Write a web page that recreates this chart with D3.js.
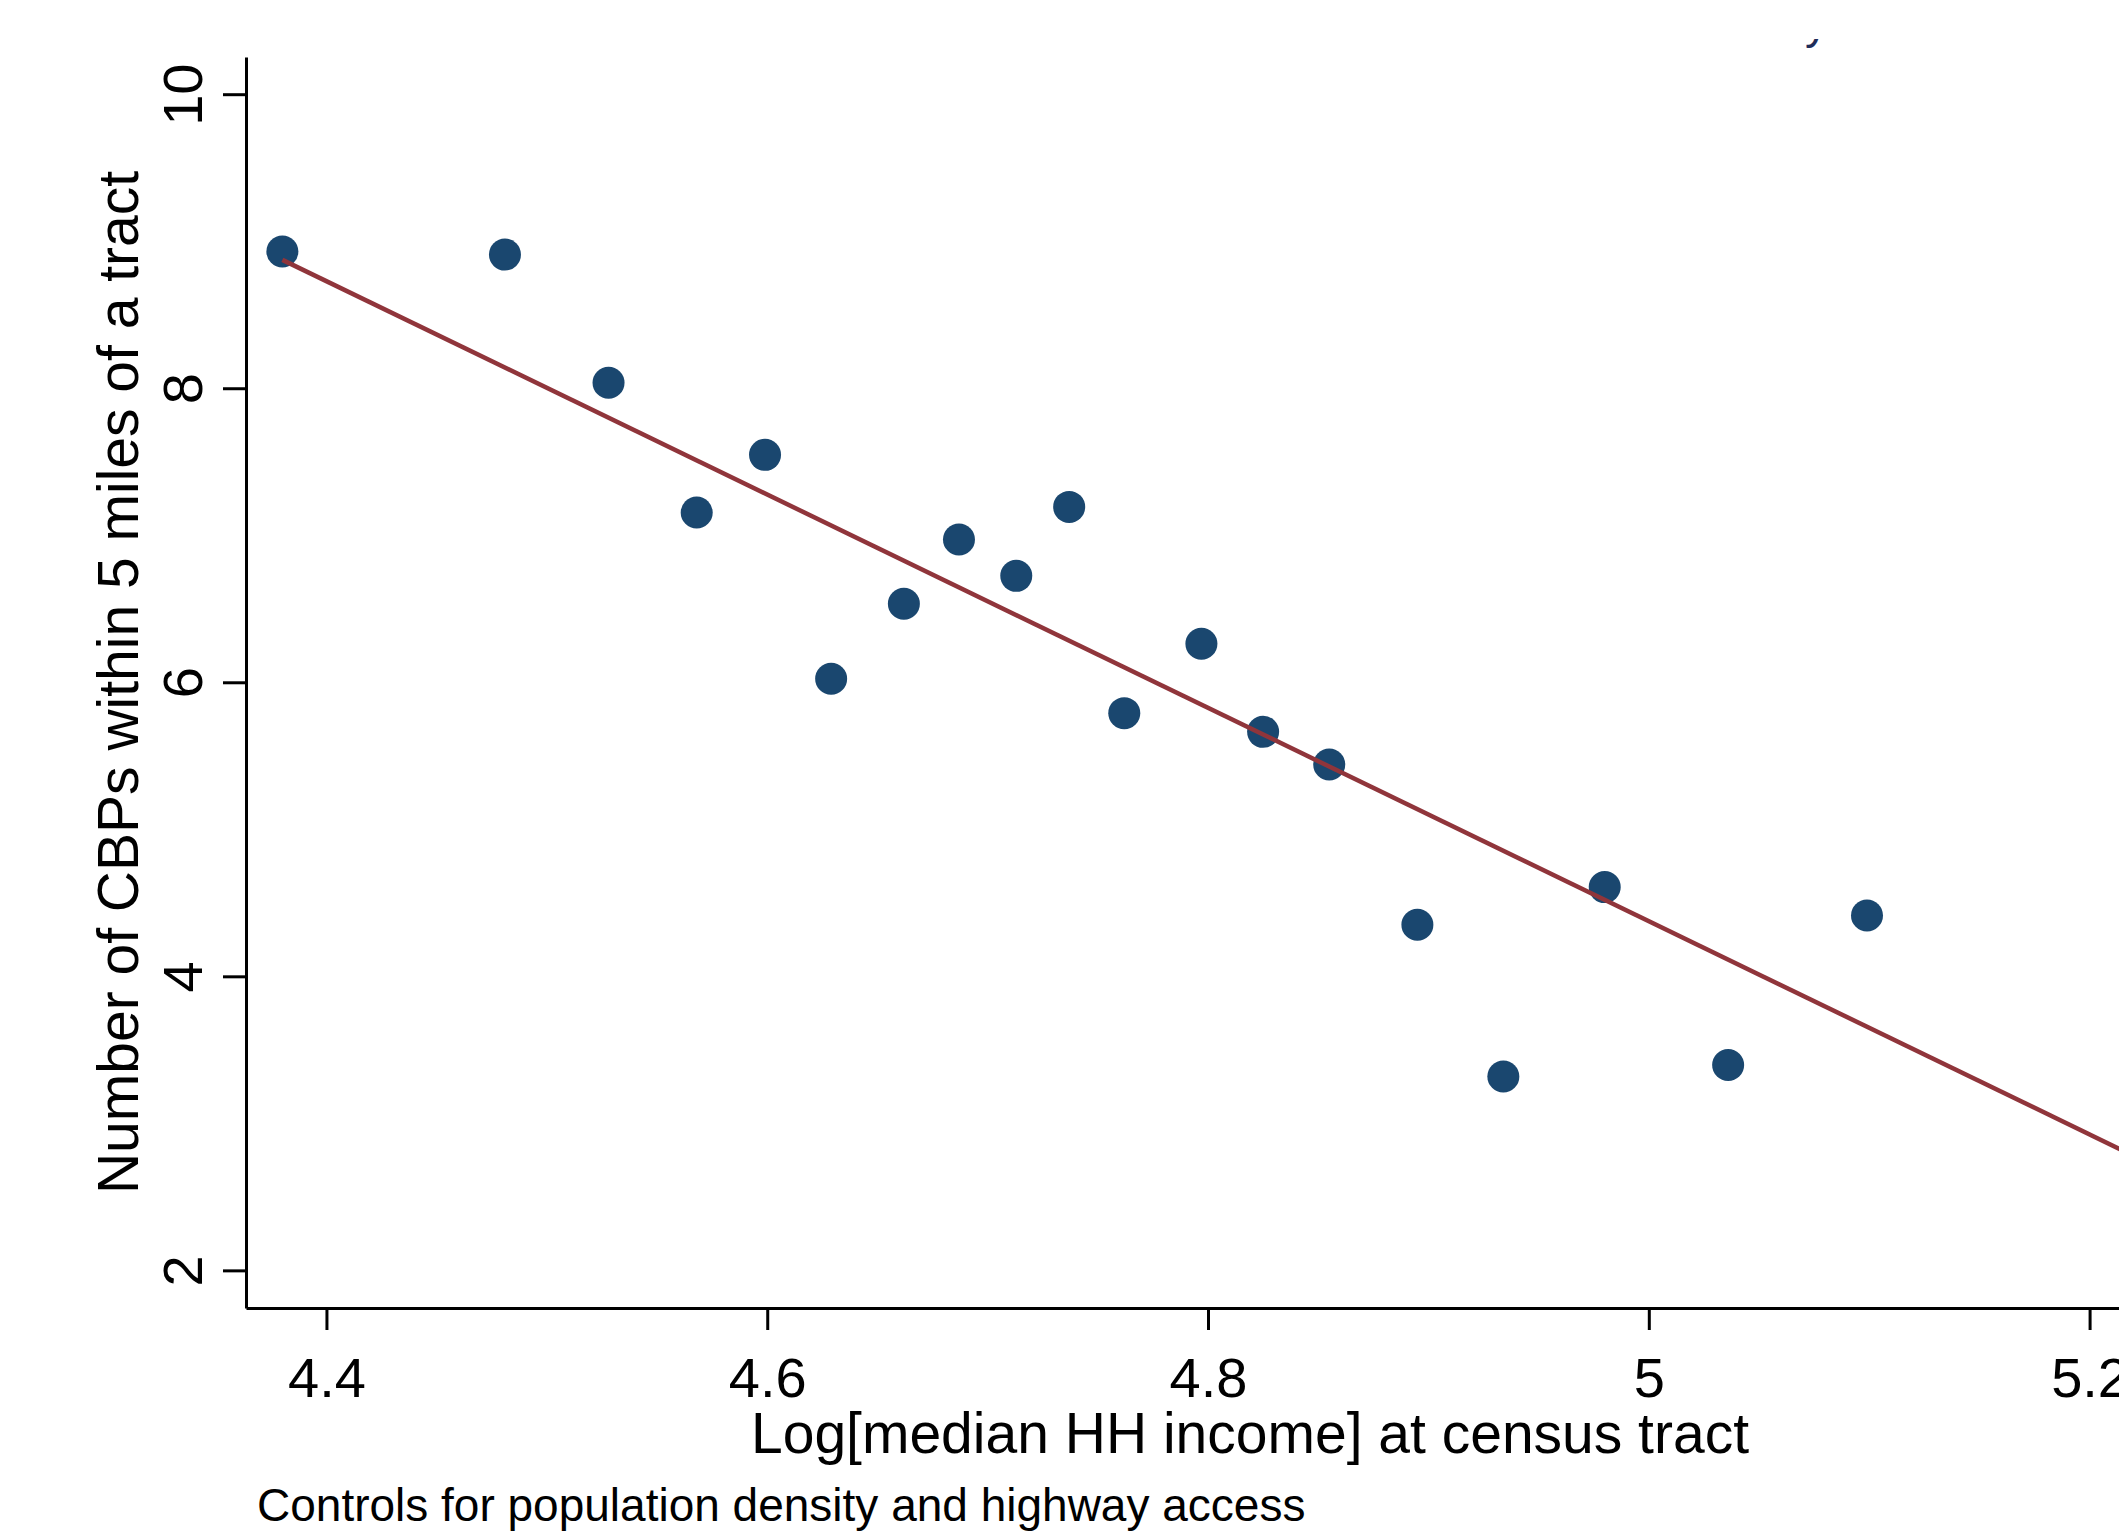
<!DOCTYPE html>
<html>
<head>
<meta charset="utf-8">
<script src="https://cdn.jsdelivr.net/npm/d3@7"></script>
<style>
  body { margin: 0; background: #fff; }
  text { font-family: 'Liberation Sans', Arial, sans-serif; }
</style>
</head>
<body>
<div class="canvas"></div>
<script>
// binned scatter: log median income vs number of CBPs
const incomeLog = [
  4.380, 4.481, 4.528, 4.568, 4.599, 4.629, 4.662, 4.687, 4.713, 4.737,
  4.762, 4.797, 4.825, 4.855, 4.895, 4.934, 4.980, 5.036, 5.099,
];
const cbpCount = [
  8.930, 8.909, 8.037, 7.155, 7.547, 6.024, 6.534, 6.971, 6.724, 7.193,
  5.790, 6.262, 5.663, 5.441, 4.351, 3.319, 4.607, 3.397, 4.414,
];

// fitted line end points
const fitX = [4.380, 5.26];
const fitY = [8.873, 2.489];

const xTicks = [4.4, 4.6, 4.8, 5, 5.2];
const xTickLabels = ['4.4', '4.6', '4.8', '5', '5.2'];
const yTicks = [2, 4, 6, 8, 10];
const yTickLabels = ['2', '4', '6', '8', '10'];

const xTitle = 'Log[median HH income] at census tract';
const yTitle = 'Number of CBPs within 5 miles of a tract';
const note = 'Controls for population density and highway access';

const dimensions = { width: 2119, height: 1533 };
const plot = { left: 246, right: 2254, top: 57, bottom: 1308 };
const colours = { dot: '#1a476f', fit: '#90353b', axis: '#000' };

const svg = d3
  .select('.canvas')
  .append('svg')
  .attr('width', dimensions.width)
  .attr('height', dimensions.height);

const x = d3.scaleLinear().domain([4.3635, 5.2746]).range([plot.left, plot.right]);
const y = d3.scaleLinear().domain([1.744, 10.253]).range([plot.bottom, plot.top]);

// fragment of cropped text in the top right corner
svg
  .append('clipPath')
  .attr('id', 'topClip')
  .append('rect')
  .attr('x', 1780)
  .attr('y', 39)
  .attr('width', 80)
  .attr('height', 30);

svg
  .append('text')
  .attr('clip-path', 'url(#topClip)')
  .attr('x', 1805)
  .attr('y', 38)
  .attr('font-size', 46)
  .attr('fill', '#1f2d5a')
  .text('y');

// dots
const points = incomeLog.map((d, i) => ({ x: d, y: cbpCount[i] }));

svg
  .append('g')
  .selectAll('circle')
  .data(points)
  .enter()
  .append('circle')
  .attr('cx', (d) => x(d.x))
  .attr('cy', (d) => y(d.y))
  .attr('r', 16)
  .attr('fill', colours.dot);

// fit line drawn over the dots
const fitLine = d3
  .line()
  .x((d) => x(d[0]))
  .y((d) => y(d[1]));

svg
  .append('path')
  .datum(fitX.map((d, i) => [d, fitY[i]]))
  .attr('d', fitLine)
  .attr('fill', 'none')
  .attr('stroke', colours.fit)
  .attr('stroke-width', 4.5);

// axes
const xAxis = d3
  .axisBottom(x)
  .tickValues(xTicks)
  .tickFormat((d, i) => xTickLabels[i])
  .tickSize(22)
  .tickSizeOuter(0)
  .tickPadding(27);

const yAxis = d3
  .axisLeft(y)
  .tickValues(yTicks)
  .tickFormat((d, i) => yTickLabels[i])
  .tickSize(23)
  .tickSizeOuter(0);

const xAxisGroup = svg
  .append('g')
  .attr('transform', `translate(0, ${plot.bottom})`)
  .call(xAxis);

const yAxisGroup = svg
  .append('g')
  .attr('transform', `translate(${plot.left}, 0)`)
  .call(yAxis);

[xAxisGroup, yAxisGroup].forEach((g) => {
  g.select('.domain').attr('stroke', colours.axis).attr('stroke-width', 3);
  g.selectAll('.tick line').attr('stroke', colours.axis).attr('stroke-width', 3);
  g.selectAll('.tick text')
    .attr('fill', '#000')
    .attr('font-size', 56)
    .attr('font-family', "'Liberation Sans', Arial, sans-serif");
});

// rotated y tick labels, baseline toward the axis
yAxisGroup
  .selectAll('.tick text')
  .attr('transform', 'rotate(-90)')
  .attr('x', 0)
  .attr('y', -44)
  .attr('dy', null)
  .attr('text-anchor', 'middle');

// titles
svg
  .append('text')
  .attr('x', (plot.left + plot.right) / 2)
  .attr('y', 1453)
  .attr('text-anchor', 'middle')
  .attr('font-size', 57)
  .attr('fill', '#000')
  .text(xTitle);

svg
  .append('text')
  .attr('transform', `translate(138, ${(plot.top + plot.bottom) / 2}) rotate(-90)`)
  .attr('text-anchor', 'middle')
  .attr('font-size', 57)
  .attr('fill', '#000')
  .text(yTitle);

svg
  .append('text')
  .attr('x', 257)
  .attr('y', 1521)
  .attr('font-size', 46)
  .attr('fill', '#000')
  .text(note);
</script>
</body>
</html>
